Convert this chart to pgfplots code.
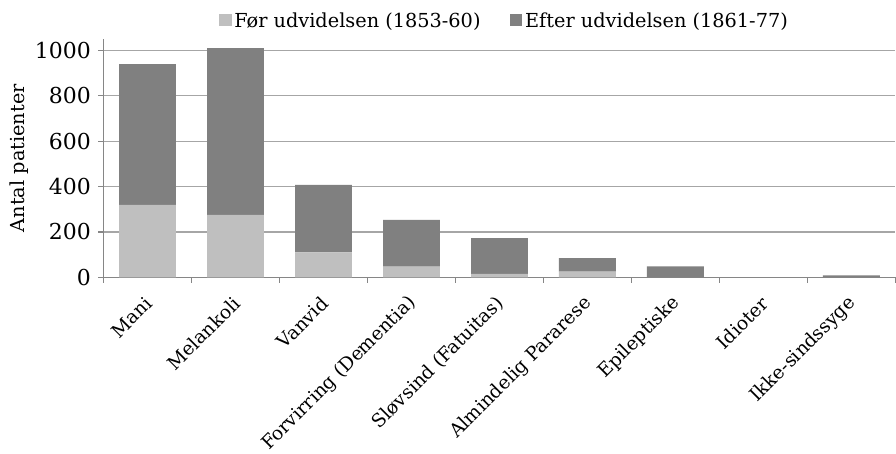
\documentclass[border=0pt]{standalone}
\usepackage{fontspec}
\setmainfont{DejaVu Serif}
\usepackage{pgfplots}
\pgfplotsset{compat=1.18}
\definecolor{lightbar}{HTML}{BFBFBF}
\definecolor{darkbar}{HTML}{808080}
\definecolor{gridc}{HTML}{A6A6A6}
\definecolor{axisc}{HTML}{868686}
\begin{document}
\begin{tikzpicture}
\begin{axis}[
  scale only axis,
  width=595pt, height=179pt,
  ybar stacked, bar width=42.75pt,
  xmin=-0.5, xmax=8.5, ymin=0, ymax=1050,
  axis lines=left,
  axis line style={draw=axisc, line width=0.9pt, -},
  xtick={0,...,8},
  xticklabels={Mani,Melankoli,Vanvid,Forvirring (Dementia),Sl{\o}vsind (Fatuitas),Almindelig Pararese,Epileptiske,Idioter,Ikke-sindssyge},
  x tick label style={rotate=45, anchor=east, inner sep=0pt, font=\fontsize{14}{16}\selectfont, xshift=-8.5pt, yshift=-10pt},
  major x tick style={draw=none},
  minor xtick={-0.5,0.5,...,8.5},
  minor x tick style={draw=axisc, line width=0.9pt},
  minor tick length=4pt,
  ytick={0,200,...,1000},
  y tick label style={font=\fontsize{16.5}{18}\selectfont, /pgf/number format/1000 sep={}, xshift=-2pt},
  /pgf/number format/assume math mode=true,
  major tick length=4pt,
  ytick style={draw=axisc, line width=0.9pt},
  tick align=outside,
  ymajorgrids,
  major grid style={draw=gridc, line width=0.9pt},
  ylabel={Antal patienter},
  ylabel style={font=\fontsize{14.5}{16}\selectfont, yshift=-2pt},
  legend style={at={(0.5,1.015)}, anchor=south, xshift=4pt, draw=none, legend columns=2,
    font=\fontsize{14.5}{16}\selectfont,
    /tikz/every odd column/.append style={column sep=0pt},
    /tikz/every even column/.append style={column sep=20pt}},
  legend image code/.code={\fill[#1] (0pt,-3.5pt) rectangle (9.5pt,6pt);},
  clip=false,
]
\addplot[fill=lightbar, draw=none] coordinates {(0,319) (1,275) (2,110) (3,47) (4,15) (5,25) (6,0) (7,0) (8,0)};
\addplot[fill=darkbar, draw=none] coordinates {(0,621) (1,735) (2,298) (3,206) (4,158) (5,60) (6,48) (7,0) (8,9)};
\legend{F{\o}r udvidelsen (1853-60), Efter udvidelsen (1861-77)}
\end{axis}
\path (current axis.outer west) ++(-4pt,0);
\path (current bounding box.north) ++(0,6pt);
\end{tikzpicture}
\end{document}
